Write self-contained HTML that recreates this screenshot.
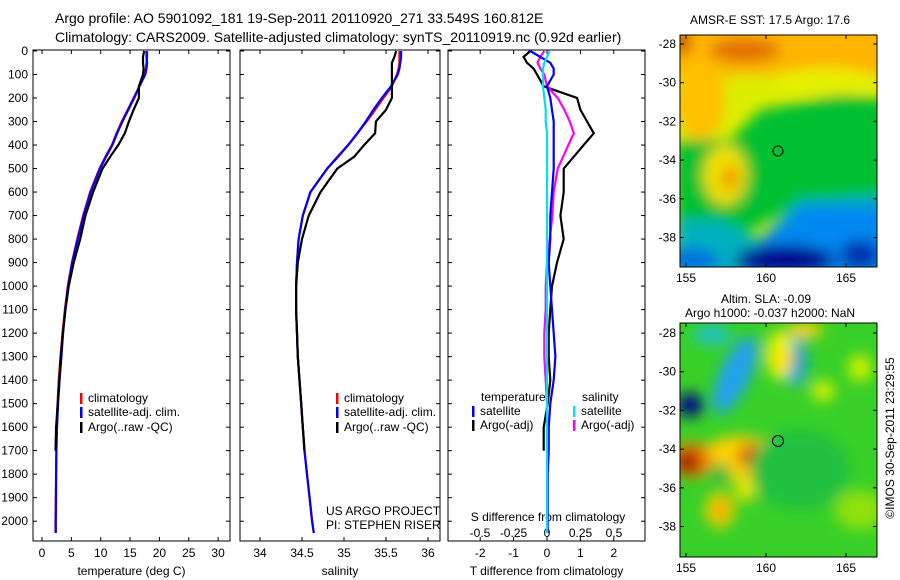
<!DOCTYPE html>
<html><head><meta charset="utf-8">
<style>
html,body{margin:0;padding:0;background:#fff;}
svg{display:block;font-family:"Liberation Sans",sans-serif;}
text{fill:#000;}
</style></head>
<body>
<svg id="fig" width="900" height="580" viewBox="0 0 900 580" xmlns="http://www.w3.org/2000/svg">
<defs>
<filter id="bl" x="-20%" y="-20%" width="140%" height="140%"><feGaussianBlur stdDeviation="7"/></filter>
<clipPath id="c1"><rect x="680" y="35" width="197" height="232"/></clipPath>
<clipPath id="c2"><rect x="680" y="323" width="197" height="234"/></clipPath>
<clipPath id="p1c"><rect x="33" y="50" width="197" height="491"/></clipPath>
<clipPath id="p2c"><rect x="240" y="50" width="200" height="491"/></clipPath>
<clipPath id="p3c"><rect x="448" y="50" width="197" height="491"/></clipPath>
</defs>
<text x="55" y="23" font-size="14">Argo profile: AO 5901092_181 19-Sep-2011 20110920_271 33.549S 160.812E</text>
<text x="55" y="42" font-size="14">Climatology: CARS2009. Satellite-adjusted climatology: synTS_20110919.nc (0.92d earlier)</text>

<g id="panels"></g>

<g>
<text x="770" y="24" font-size="12" text-anchor="middle">AMSR-E SST: 17.5 Argo: 17.6</text>
<g clip-path="url(#c1)">
<rect x="680" y="35" width="197" height="232" fill="#dcee00"/>
<g filter="url(#bl)">
<rect x="670" y="25" width="220" height="50" fill="#ffb400"/>
<ellipse cx="700" cy="100" rx="25" ry="40" fill="#ffc000"/>
<ellipse cx="745" cy="50" rx="35" ry="12" fill="#e07000"/>
<ellipse cx="682" cy="42" rx="8" ry="12" fill="#c02000"/>
<ellipse cx="825" cy="80" rx="50" ry="12" fill="#e8f000"/>
<path d="M675 140 L730 140 L760 110 L840 95 L890 100 L890 215 L800 205 L760 225 L730 245 L675 240 Z" fill="#00c030"/>
<ellipse cx="725" cy="175" rx="22" ry="30" fill="#f0e000"/>
<ellipse cx="730" cy="178" rx="8" ry="12" fill="#f09000"/>
<path d="M675 220 L720 220 L760 240 L800 200 L890 195 L890 280 L675 280 Z" fill="#00b0c0"/>
<path d="M760 240 L800 205 L890 205 L890 280 L740 280 Z" fill="#0088f0"/>
<ellipse cx="690" cy="260" rx="30" ry="12" fill="#0070e0"/>
<ellipse cx="785" cy="260" rx="50" ry="15" fill="#000090"/>
<ellipse cx="860" cy="255" rx="20" ry="15" fill="#0030b0"/>
</g>
</g>
<rect x="680" y="35" width="197" height="232" fill="none" stroke="#000"/>
<circle cx="778" cy="151" r="5" fill="none" stroke="#000"/>
<g id="m1ticks"></g>
</g>

<g>
<text x="766" y="303" font-size="12" text-anchor="middle">Altim. SLA: -0.09</text>
<text x="770" y="317" font-size="12" text-anchor="middle">Argo h1000: -0.037 h2000: NaN</text>
<g clip-path="url(#c2)">
<rect x="680" y="323" width="197" height="234" fill="#38d028"/>
<g filter="url(#bl)">
<ellipse cx="735" cy="375" rx="15" ry="42" transform="rotate(25 735 375)" fill="#20a0f0"/>
<ellipse cx="690" cy="405" rx="14" ry="12" fill="#001080"/>
<ellipse cx="795" cy="362" rx="12" ry="24" fill="#10a8e8"/>
<ellipse cx="795" cy="360" rx="5" ry="10" fill="#0040c0"/>
<ellipse cx="712" cy="335" rx="20" ry="10" fill="#20c0c0"/>
<ellipse cx="780" cy="355" rx="14" ry="25" fill="#e8f000"/>
<ellipse cx="781" cy="360" rx="8" ry="10" fill="#ffe000"/>
<ellipse cx="805" cy="330" rx="18" ry="8" fill="#ffd000"/>
<ellipse cx="823" cy="391" rx="12" ry="10" fill="#d8f000"/>
<ellipse cx="860" cy="368" rx="12" ry="14" fill="#c8f000"/>
<ellipse cx="740" cy="458" rx="40" ry="22" fill="#ffd000"/>
<ellipse cx="752" cy="456" rx="14" ry="12" fill="#d05010"/>
<ellipse cx="692" cy="460" rx="20" ry="18" fill="#f08000"/>
<ellipse cx="688" cy="462" rx="12" ry="12" fill="#a00000"/>
<ellipse cx="720" cy="510" rx="15" ry="18" fill="#f0d000"/>
<ellipse cx="721" cy="510" rx="6" ry="8" fill="#f09000"/>
<ellipse cx="745" cy="490" rx="10" ry="12" fill="#e8e800"/>
<ellipse cx="720" cy="473" rx="10" ry="10" fill="#30b840"/>
<ellipse cx="860" cy="510" rx="25" ry="20" fill="#90e010"/>
<ellipse cx="800" cy="470" rx="50" ry="40" fill="#20c040"/>
</g>
</g>
<rect x="680" y="323" width="197" height="234" fill="none" stroke="#000"/>
<circle cx="778" cy="441" r="5.5" fill="none" stroke="#000"/>
<g id="m2ticks"></g>
</g>
<text transform="translate(894,438) rotate(-90)" font-size="12" text-anchor="middle">©IMOS 30-Sep-2011 23:29:55</text>
</svg>
<script>
// ---- data ----
const depths = [0,25,50,75,100,150,200,250,300,350,400,450,500,600,700,800,900,1000,1100,1200,1300,1400,1500,1600,1700,1800,1900,2000,2050];
const climT = [17.9,17.9,17.8,17.7,17.5,16.6,15.6,14.6,13.6,12.7,11.9,10.8,9.8,8.2,7.0,6.0,5.1,4.4,3.9,3.5,3.15,2.85,2.65,2.5,2.45,2.4,2.35,2.3,2.3];
const satT = [17.8,17.8,17.9,17.8,17.6,16.6,15.7,14.7,13.7,12.8,12.0,10.9,9.9,8.3,7.1,6.1,5.15,4.45,3.95,3.6,3.3,3.0,2.75,2.55,2.45,2.4,2.38,2.35,2.35];
const argoT = [17.4,17.2,17.2,17.3,17.2,16.5,16.5,15.6,14.8,14.1,13.0,11.6,10.3,8.7,7.4,6.5,5.4,4.55,4.0,3.55,3.2,2.95,2.67,2.4,2.3,null,null,null,null];
const climS = [35.66,35.66,35.66,35.65,35.63,35.57,35.47,35.37,35.27,35.16,35.05,34.92,34.8,34.6,34.51,34.46,34.44,34.43,34.43,34.44,34.45,34.47,34.49,34.51,34.53,34.56,34.59,34.62,34.64];
const satS = [35.68,35.68,35.67,35.66,35.64,35.56,35.45,35.35,35.26,35.16,35.05,34.93,34.8,34.6,34.51,34.46,34.44,34.43,34.43,34.44,34.45,34.47,34.49,34.51,34.53,34.56,34.59,34.62,34.64];
const argoS = [35.62,35.6,35.57,35.57,35.57,35.57,35.57,35.5,35.38,35.37,35.24,35.12,34.92,34.72,34.58,34.5,34.45,34.43,34.43,34.44,34.45,34.47,34.49,34.51,34.53,null,null,null,null];
const tDiffSat = [-0.5,-0.2,0.1,0.2,0.2,0.0,0.1,0.15,0.2,0.2,0.2,0.2,0.2,0.15,0.1,0.1,0.05,0.1,0.15,0.2,0.25,0.2,0.1,0.05,0.05,0.02,0.02,0.02,0.02];
const tDiffArgo = [-0.5,-0.7,-0.6,-0.4,-0.3,-0.1,0.9,1.0,1.2,1.4,1.1,0.8,0.5,0.5,0.4,0.5,0.3,0.15,0.1,0.05,0.05,0.1,0.02,-0.1,-0.1,null,null,null,null];
const sDiffSat = [0.02,0.0,-0.02,-0.03,-0.03,-0.03,-0.02,-0.01,-0.01,0,0,0,0,0,0,0,0,0,0,0,0,0,0,0,0,0,0,0,0];
const sDiffArgo = [-0.02,-0.05,-0.07,-0.05,-0.02,0.0,0.08,0.13,0.17,0.2,0.16,0.12,0.08,0.05,0.04,0.02,0.0,-0.01,-0.01,-0.02,-0.02,-0.01,0,0,0,null,null,null,null];
const depthTicks = [0,100,200,300,400,500,600,700,800,900,1000,1100,1200,1300,1400,1500,1600,1700,1800,1900,2000];
const tTicks = [0,5,10,15,20,25,30];
const sTicks = [34,34.5,35,35.5,36];
const dtTicks = [-2,-1,0,1,2];
const dsTicks = [-0.5,-0.25,0,0.25,0.5];
const lonTicks = [155,160,165];
const latTicks = [-28,-30,-32,-34,-36,-38];

const NS = 'http://www.w3.org/2000/svg';
const root = document.getElementById('panels');
function mk(tag, attrs, parent, txt){const e=document.createElementNS(NS,tag);for(const k in attrs)e.setAttribute(k,attrs[k]);if(txt!==undefined)e.textContent=txt;(parent||root).appendChild(e);return e;}
const yD = d => 51 + d*0.2351;
const xT = v => 42 + v*5.87;
const xS = v => 260 + (v-34)*84;
const xDT = v => 547 + v*33.4;
const xDS = v => 547 + v*134;
const TOP=50, BOT=541;

function line(xs, xf, color, clip, name){
  let d='', pen=false;
  for(let i=0;i<depths.length;i++){
    if(xs[i]===null){pen=false;continue;}
    d += (pen?'L':'M') + xf(xs[i]).toFixed(1) + ' ' + yD(depths[i]).toFixed(1) + ' ';
    pen=true;
  }
  const p = mk('path',{d:d,fill:'none',stroke:color,'stroke-width':2.2,'clip-path':clip});
  
  
}

function panel(x0,x1,name,ticks,xf,tlabels,title){
  const g = mk('rect',{x:x0,y:TOP,width:x1-x0,height:BOT-TOP,fill:'none',stroke:'#000','stroke-width':1});
  
  
  ticks.forEach((t,i)=>{
    const x=xf(t);
    mk('line',{x1:x,x2:x,y1:TOP,y2:TOP+4,stroke:'#000'});
    mk('line',{x1:x,x2:x,y1:BOT,y2:BOT-4,stroke:'#000'});
    const tl = mk('text',{x:x,y:557,'font-size':12,'text-anchor':'middle'},null,tlabels?tlabels[i]:String(t));
    
    
  });
  depthTicks.forEach(d=>{
    mk('line',{x1:x0,x2:x0+4,y1:yD(d),y2:yD(d),stroke:'#000'});
    mk('line',{x1:x1,x2:x1-4,y1:yD(d),y2:yD(d),stroke:'#000'});
  });
  const tt = mk('text',{x:(x0+x1)/2,y:575,'font-size':12,'text-anchor':'middle'},null,title);
  
  
}

depthTicks.forEach(d=>{
  const t = mk('text',{x:28,y:yD(d)+4,'font-size':12,'text-anchor':'end'},null,String(d));
  
  
});

panel(33,230,'temperature-panel',tTicks,xT,null,'temperature (deg C)');
panel(240,440,'salinity-panel',sTicks,xS,null,'salinity');
panel(448,645,'difference-panel',dtTicks,xDT,null,'T difference from climatology');

dsTicks.forEach(v=>{
  const t = mk('text',{x:xDS(v),y:537,'font-size':12,'text-anchor':'middle'},null,String(v));
  
  
});
const sdt = mk('text',{x:548,y:521,'font-size':12,'text-anchor':'middle'},null,'S difference from climatology');



line(climT, xT, '#ff0000', 'url(#p1c)', 'temp-climatology-line');
line(satT, xT, '#0000ff', 'url(#p1c)', 'temp-satellite-line');
line(argoT, xT, '#000000', 'url(#p1c)', 'temp-argo-line');
line(climS, xS, '#ff0000', 'url(#p2c)', 'sal-climatology-line');
line(satS, xS, '#0000ff', 'url(#p2c)', 'sal-satellite-line');
line(argoS, xS, '#000000', 'url(#p2c)', 'sal-argo-line');
line(tDiffArgo, xDT, '#000000', 'url(#p3c)', 'tdiff-argo-line');
line(sDiffArgo, xDS, '#ff00ff', 'url(#p3c)', 'sdiff-argo-line');
line(tDiffSat, xDT, '#0000ff', 'url(#p3c)', 'tdiff-satellite-line');
line(sDiffSat, xDS, '#00e0f0', 'url(#p3c)', 'sdiff-satellite-line');

function leg(x,y,color,label,name){
  if(color) mk('rect',{x:x,y:y-9,width:2.5,height:11,fill:color});
  const t = mk('text',{x:x+8,y:y,'font-size':12},null,label);
  
  
}
leg(80,402,'#ff0000','climatology','legend-climatology');
leg(80,416,'#0000ff','satellite-adj. clim.','legend-satellite-adj');
leg(80,431,'#000000','Argo(..raw -QC)','legend-argo');
leg(336,402,'#ff0000','climatology','legend-sal-climatology');
leg(336,416,'#0000ff','satellite-adj. clim.','legend-sal-satellite-adj');
leg(336,431,'#000000','Argo(..raw -QC)','legend-sal-argo');
leg(473,401,null,'temperature','legend-temperature-header');
leg(472,415,'#0000ff','satellite','legend-t-satellite');
leg(472,429,'#000000','Argo(-adj)','legend-t-argo');
leg(574,401,null,'salinity','legend-salinity-header');
leg(573,415,'#00e0f0','satellite','legend-s-satellite');
leg(573,429,'#ff00ff','Argo(-adj)','legend-s-argo');
const us = mk('text',{x:326,y:515,'font-size':12},null,'US ARGO PROJECT');


const pi = mk('text',{x:326,y:529,'font-size':12},null,'PI: STEPHEN RISER');



function mapTicks(gid, y0, y1, latY){
  const g = document.getElementById(gid);
  lonTicks.forEach(l=>{
    const x = 686 + (l-155)*16;
    mk('line',{x1:x,x2:x,y1:y0,y2:y0+4,stroke:'#000'},g);
    mk('line',{x1:x,x2:x,y1:y1,y2:y1-4,stroke:'#000'},g);
    const t = mk('text',{x:x,y:y1+15,'font-size':12,'text-anchor':'middle'},g,String(l));
    
    
  });
  latTicks.forEach(l=>{
    const y = latY + (-28-l)*19.35;
    mk('line',{x1:680,x2:684,y1:y,y2:y,stroke:'#000'},g);
    mk('line',{x1:877,x2:873,y1:y,y2:y,stroke:'#000'},g);
    const t = mk('text',{x:676,y:y+4,'font-size':12,'text-anchor':'end'},g,String(l));
    
    
  });
}
mapTicks('m1ticks',35,267,44);
mapTicks('m2ticks',323,557,333);
</script>
</body></html>
